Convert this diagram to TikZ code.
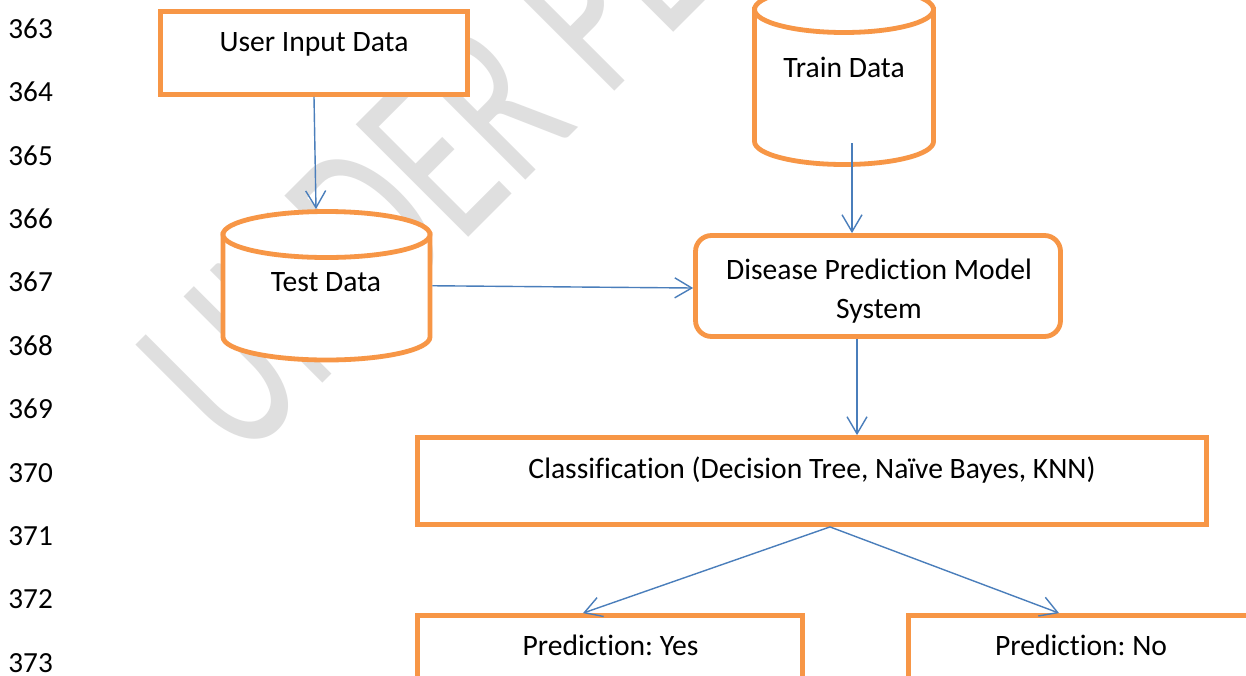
\documentclass[tikz,border=0pt]{standalone}
\usepackage{fontspec}
\setmainfont{Carlito}[Ligatures=NoCommon]
\usepackage{graphicx}
\usetikzlibrary{arrows.meta}
\usetikzlibrary{positioning}

\definecolor{boxorange}{RGB}{247,150,70}
\definecolor{flowblue}{RGB}{74,126,187}
\definecolor{wmgray}{RGB}{223,223,223}

\begin{document}
\frenchspacing
\begin{tikzpicture}[x=0.5pt,y=-0.5pt,
  box/.style={rectangle,draw=boxorange,line width=2.4pt,fill=white,inner sep=0pt},
  rbox/.style={box,rounded corners=8pt},
  db/.style={draw=boxorange,line width=2.4pt,fill=white},
  dbspot/.style={rectangle,inner sep=0pt,outer sep=1.2pt},
  lbl/.style={font=\fontsize{14.8}{19.2}\selectfont,text=black,anchor=base,inner sep=0pt},
  lineno/.style={font=\fontsize{14.6}{17}\selectfont,text=black,anchor=base west,inner sep=0pt},
  flow/.style={draw=flowblue,line width=0.7pt,-{Straight Barb[length=8.5pt,width=10pt]}}]

\useasboundingbox (0,0) rectangle (1246,675);
\clip (0,0) rectangle (1246,675);
\fill[white] (0,0) rectangle (1246,675);

% watermark
\node[rotate=45,anchor=base west,inner sep=0pt,text=wmgray,font=\fontsize{124}{124}\selectfont] (wmark) at (240,466) {\scalebox{0.66}[1]{UNDER PEER REVIEW}};

% line numbers
\foreach \n [count=\i from 0] in {363,...,373}
  \node[lineno] (ln\n) at (8,38.3+63.4*\i) {\n};

% boxes
\node[box,minimum width=153.5pt,minimum height=41.5pt] (userin) at (314,53) {};
\node[rbox,minimum width=182.5pt,minimum height=50.5pt] (disease) at (878,286) {};
\node[box,minimum width=394.5pt,minimum height=43.5pt] (classif) at (812,481) {};
\node[box,minimum width=192.5pt,minimum height=43.5pt] (yes) at (610,659) {};
\node[box,minimum width=172.5pt,minimum height=43.5pt] (nobox) at (1081,659) {};

% cylinders
\node[dbspot,minimum width=103.5pt,minimum height=74.25pt] (testdb) at (326.5,285.75) {};
\draw[db] (223,234.5) -- (223,337) arc[start angle=180,end angle=0,x radius=103.5,y radius=23] -- (430,234.5) -- cycle;
\draw[db] (326.5,234.5) ellipse[x radius=103.5,y radius=23];
\node[dbspot,minimum width=89.5pt,minimum height=89pt] (traindb) at (844,75.5) {};
\draw[db] (754.5,9.5) -- (754.5,141.5) arc[start angle=180,end angle=0,x radius=89.5,y radius=23] -- (933.5,9.5) -- cycle;
\draw[db] (844,9.5) ellipse[x radius=89.5,y radius=23];

% texts
\node[lbl] (userlbl) at (314,51.7) {User Input Data};
\node[lbl] (testlbl) at (326,291) {Test Data};
\node[lbl] (trainlbl) at (844,77) {Train Data};
\node[lbl,align=center] (diseaselbl) at (879,318.3) {Disease Prediction Model\\System};
\node[lbl] (classiflbl) at (812,478) {Classification (Decision Tree, Naïve Bayes, KNN)};
\node[lbl] (yeslbl) at (610.5,655) {Prediction: Yes};
\node[lbl] (nolbl) at (1081,655) {Prediction: No};

% connectors
\coordinate (trainout) at (852,143);
\coordinate (diseaseout) at ([xshift=-10.5pt]disease.south);
\coordinate (classifout) at ([xshift=9pt]classif.south);
\draw[flow] (userin.south) -- ([xshift=-5.25pt]testdb.north);
\draw[flow] (testdb.east) -- ([yshift=-1pt]disease.west);
\draw[flow] (trainout) -- (trainout |- disease.north);
\draw[flow] (diseaseout) -- (diseaseout |- classif.north);
\draw[flow] (classifout) -- ([xshift=-13.5pt]yes.north);
\draw[flow] (classifout) -- ([xshift=-11pt]nobox.north);

\end{tikzpicture}
\end{document}
